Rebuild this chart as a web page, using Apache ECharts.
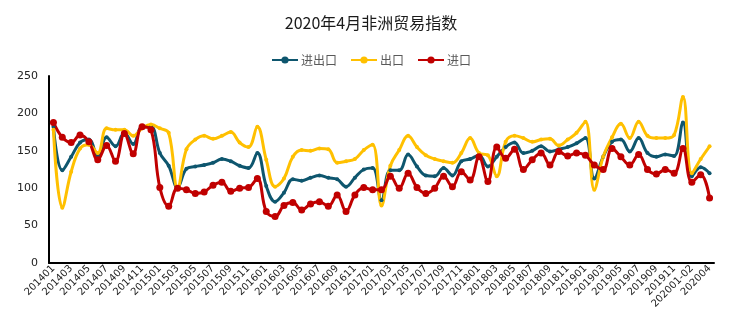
<!DOCTYPE html>
<html>
<head>
<meta charset="utf-8">
<script src="https://cdn.jsdelivr.net/npm/echarts@6/dist/echarts.min.js"></script>
<style>html,body{margin:0;padding:0;background:#fff}#c{width:742px;height:324px}</style>
</head>
<body>
<div id="c"></div>
<script>
var categories = [
 '201401','201402','201403','201404','201405','201406','201407','201408','201409','201410','201411','201412',
 '201501','201502','201503','201504','201505','201506','201507','201508','201509','201510','201511','201512',
 '201601','201602','201603','201604','201605','201606','201607','201608','201609','201610','201611','201612',
 '201701','201702','201703','201704','201705','201706','201707','201708','201709','201710','201711','201712',
 '201801','201802','201803','201804','201805','201806','201807','201808','201809','201810','201811','201812',
 '201901','201902','201903','201904','201905','201906','201907','201908','201909','201910','201911','201912',
 '202001-02','202003','202004'
];
var totalTrade = [
 182,124,142,161,165,142,168,156,174,159,182,182,
 147,130,101,126,129,131,134,139,136,130,127,147,
 103,82,94,112,110,114,117,114,112,102,114,125,
 127,84,124,124,145,129,117,116,127,117,136,139,
 144,129,142,155,161,147,150,156,149,152,155,160,
 167,113,142,162,165,149,167,147,142,145,143,188,
 116,128,120
];
var exportIdx = [
 178,74,122,153,158,147,180,178,178,170,180,185,
 180,174,100,152,165,170,166,170,175,161,155,182,
 138,102,113,142,151,150,153,152,134,136,139,151,
 158,77,130,151,170,155,144,139,136,134,147,167,
 147,144,116,162,170,167,162,165,166,157,165,174,
 189,98,142,168,186,167,189,170,167,167,171,222,
 120,139,156
];
var importIdx = [
 188,168,161,171,162,138,157,136,173,146,182,178,
 101,76,100,98,93,95,104,108,96,100,101,113,
 69,62,77,81,71,79,82,76,91,69,91,101,
 98,98,116,100,120,101,93,100,116,102,122,111,
 142,109,155,140,152,125,138,147,131,149,143,147,
 144,131,125,153,142,131,145,125,119,125,120,153,
 108,118,87
];

var chart = echarts.init(document.getElementById('c'), null, {renderer: 'canvas'});
var font = '"Microsoft YaHei","Noto Sans CJK SC","DejaVu Sans",sans-serif';
chart.setOption({
  animation: false,
  title: {
    text: '2020年4月非洲贸易指数',
    left: 'center', top: 10,
    textStyle: {fontFamily: font, fontSize: 16, fontWeight: 'normal', color: '#1a1a1a'}
  },
  legend: {
    top: 49, left: 'center',
    itemWidth: 26, itemHeight: 9, itemGap: 13,
    textStyle: {fontFamily: font, fontSize: 12, color: '#595959', padding: [0, 0, 0, -2]},
    data: ['进出口', '出口', '进口']
  },
  grid: {left: 49, right: 28, top: 76, bottom: 61, containLabel: false},
  xAxis: {
    type: 'category',
    data: categories,
    boundaryGap: true,
    axisLine: {lineStyle: {color: '#000', width: 2}},
    axisTick: {show: false},
    axisLabel: {interval: 1, rotate: 45, fontSize: 10, color: '#222', margin: 4, fontFamily: '"DejaVu Sans",sans-serif'}
  },
  yAxis: {
    type: 'value', min: 0, max: 250, interval: 50,
    axisLine: {show: true, lineStyle: {color: '#000', width: 2}},
    axisTick: {show: false},
    splitLine: {show: false},
    axisLabel: {fontSize: 11, color: '#222', margin: 11, fontFamily: '"DejaVu Sans",sans-serif'}
  },
  series: [
    {
      name: '进出口', type: 'line', data: totalTrade, smooth: 0.4,
      symbol: 'circle', symbolSize: 4, showAllSymbol: true,
      lineStyle: {color: '#0e566e', width: 3},
      itemStyle: {color: '#0e566e'}
    },
    {
      name: '出口', type: 'line', data: exportIdx, smooth: 0.4,
      symbol: 'circle', symbolSize: 4, showAllSymbol: true,
      lineStyle: {color: '#ffc000', width: 3},
      itemStyle: {color: '#ffc000'}
    },
    {
      name: '进口', type: 'line', data: importIdx, smooth: 0.4,
      symbol: 'circle', symbolSize: 7, showAllSymbol: true,
      lineStyle: {color: '#c00000', width: 3},
      itemStyle: {color: '#c00000'}
    }
  ]
});
</script>
</body>
</html>
